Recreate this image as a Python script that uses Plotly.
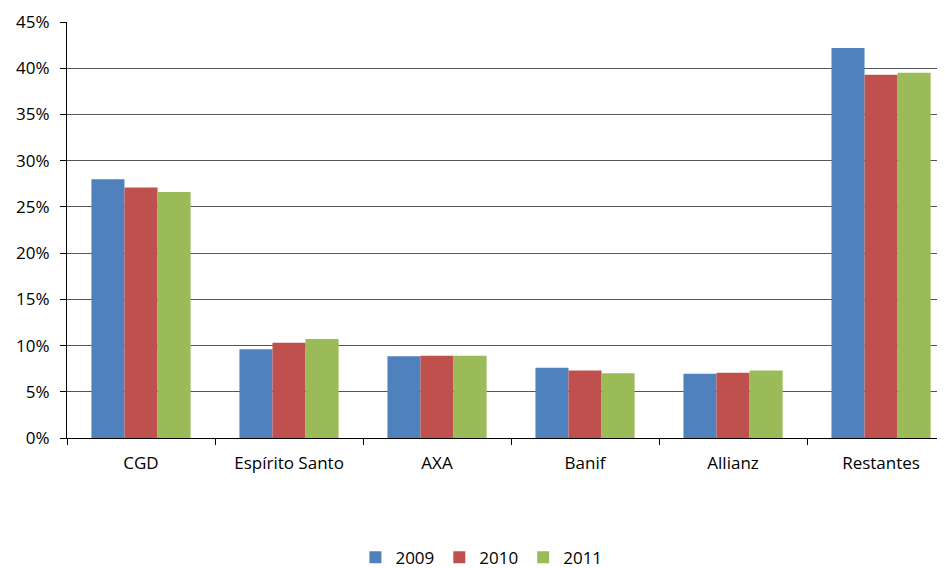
import plotly.graph_objects as go

categories = ["CGD", "Espírito Santo", "AXA", "Banif", "Allianz", "Restantes"]
series_names = ["2009", "2010", "2011"]
values_2009 = [28.0, 9.6, 8.85, 7.6, 6.95, 42.2]
values_2010 = [27.1, 10.3, 8.9, 7.3, 7.05, 39.3]
values_2011 = [26.6, 10.7, 8.9, 7.0, 7.3, 39.5]
colors = ["#4F81BD", "#C0504D", "#9BBB59"]
y_ticks = [0, 5, 10, 15, 20, 25, 30, 35, 40, 45]

font_family = "'Open Sans', 'Noto Sans', sans-serif"

fig = go.Figure()
for name, vals, col in zip(series_names, [values_2009, values_2010, values_2011], colors):
    fig.add_trace(go.Bar(
        x=categories,
        y=[v / 100 for v in vals],
        name=name,
        marker=dict(color=col, line=dict(width=0)),
    ))

fig.update_layout(
    width=937,
    height=560,
    autosize=False,
    margin=dict(l=59, r=0, t=14, b=130, autoexpand=False),
    paper_bgcolor="white",
    plot_bgcolor="white",
    barmode="group",
    bargap=0.33,
    bargroupgap=0,
    font=dict(family=font_family, size=17, color="#000000"),
    showlegend=True,
    legend=dict(
        orientation="h",
        x=0.472,
        xanchor="center",
        y=-0.288,
        yanchor="middle",
        font=dict(size=17),
        itemwidth=30,
        tracegroupgap=0,
    ),
    xaxis=dict(
        type="category",
        range=[-0.5, 5.432],
        showline=True,
        linecolor="#000000",
        linewidth=1,
        ticks="outside",
        tickson="boundaries",
        ticklen=6,
        tickcolor="#000000",
        showgrid=False,
        tickfont=dict(size=17),
        ticklabelstandoff=10,
    ),
    yaxis=dict(
        range=[0, 0.45],
        tickvals=[t / 100 for t in y_ticks],
        ticktext=[f"{t}%" for t in y_ticks],
        showline=True,
        linecolor="#000000",
        linewidth=1,
        ticks="outside",
        ticklen=6,
        tickcolor="#000000",
        showgrid=True,
        gridcolor="#555555",
        gridwidth=1,
        zeroline=False,
        tickfont=dict(size=17),
        ticklabelstandoff=7,
    ),
)

fig.write_html("out.html")
